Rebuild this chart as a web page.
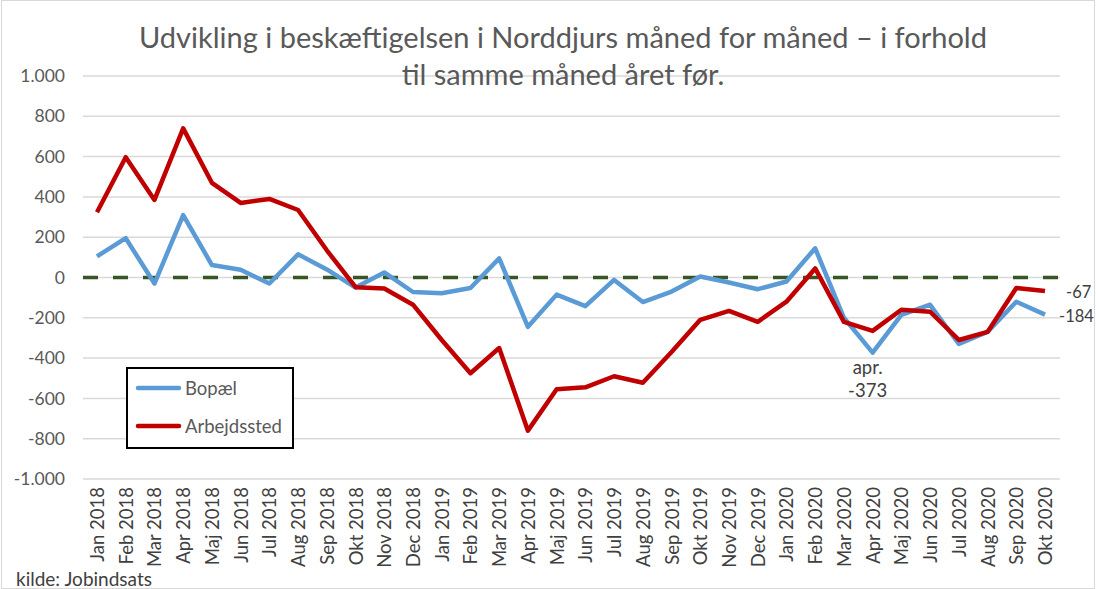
<!DOCTYPE html>
<html>
<head>
<meta charset="utf-8">
<script src="https://cdn.jsdelivr.net/npm/d3@7"></script>
<style>
  body { margin: 0; background: #fff; }
  text { font-family: Lato, 'Open Sans', sans-serif; }
</style>
</head>
<body>
<div id="chart"></div>
<script>
const months = [
  'Jan 2018', 'Feb 2018', 'Mar 2018', 'Apr 2018', 'Maj 2018', 'Jun 2018',
  'Jul 2018', 'Aug 2018', 'Sep 2018', 'Okt 2018', 'Nov 2018', 'Dec 2018',
  'Jan 2019', 'Feb 2019', 'Mar 2019', 'Apr 2019', 'Maj 2019', 'Jun 2019',
  'Jul 2019', 'Aug 2019', 'Sep 2019', 'Okt 2019', 'Nov 2019', 'Dec 2019',
  'Jan 2020', 'Feb 2020', 'Mar 2020', 'Apr 2020', 'Maj 2020', 'Jun 2020',
  'Jul 2020', 'Aug 2020', 'Sep 2020', 'Okt 2020'
]

const bopael = [
  105, 195, -30, 310, 62, 38, -30, 115, 40, -50, 25, -72,
  -78, -52, 95, -245, -85, -142, -12, -122, -70, 5, -25, -58,
  -20, 145, -200, -373, -186, -135, -330, -270, -120, -184
]

const arbejdssted = [
  324, 597, 385, 740, 470, 370, 390, 335, 135, -48, -55, -135,
  -310, -475, -350, -760, -555, -545, -490, -522, -370, -210, -166, -220,
  -120, 45, -220, -265, -160, -170, -310, -270, -52, -67
]

const yTicks = [-1000, -800, -600, -400, -200, 0, 200, 400, 600, 800, 1000]

const width = 1096
const height = 589
const margin = { left: 83, right: 1060, top: 76, bottom: 479 }
const labelSize = 18.5

const svg = d3
  .select('#chart')
  .append('svg')
  .attr('width', width)
  .attr('height', height)

// thin frame round the picture
svg
  .append('rect')
  .attr('x', 1.5)
  .attr('y', 0.5)
  .attr('width', width - 3)
  .attr('height', height - 1)
  .attr('fill', 'none')
  .attr('stroke', '#d9d9d9')

const xPositionScale = d3
  .scalePoint()
  .domain(months)
  .range([97, 1045])

const yPositionScale = d3
  .scaleLinear()
  .domain([-1000, 1000])
  .range([margin.bottom, margin.top])

const dk = d3.formatLocale({
  decimal: ',',
  thousands: '.',
  grouping: [3],
  currency: ['', ''],
  minus: '-'
})

// gridlines
svg
  .selectAll('.grid')
  .data(yTicks)
  .enter()
  .append('line')
  .attr('class', 'grid')
  .attr('x1', margin.left)
  .attr('x2', margin.right)
  .attr('y1', d => yPositionScale(d))
  .attr('y2', d => yPositionScale(d))
  .attr('stroke', '#d9d9d9')
  .attr('stroke-width', 1.5)

// y axis
const yAxis = d3
  .axisLeft(yPositionScale)
  .tickValues(yTicks)
  .tickSize(0)
  .tickPadding(0)
  .tickFormat(dk.format(',d'))

svg
  .append('g')
  .attr('class', 'y-axis')
  .attr('transform', 'translate(65,0)')
  .call(yAxis)
  .call(g => g.select('.domain').remove())
  .selectAll('text')
  .attr('font-size', 17.5)
  .attr('fill', '#595959')
  .style('font-family', 'Lato, sans-serif')

// x axis labels
const xAxis = d3
  .axisBottom(xPositionScale)
  .tickSize(0)
  .tickPadding(0)

svg
  .append('g')
  .attr('class', 'x-axis')
  .attr('transform', 'translate(0,' + margin.bottom + ')')
  .call(xAxis)
  .call(g => g.select('.domain').remove())
  .selectAll('text')
  .attr('transform', 'rotate(-90)')
  .attr('x', -8)
  .attr('y', 0)
  .attr('dy', '0.35em')
  .attr('text-anchor', 'end')
  .attr('font-size', labelSize)
  .attr('fill', '#404040')
  .style('font-family', 'Lato, sans-serif')

// zero line
svg
  .append('line')
  .attr('x1', margin.left)
  .attr('x2', margin.right)
  .attr('y1', yPositionScale(0))
  .attr('y2', yPositionScale(0))
  .attr('stroke', '#375623')
  .attr('stroke-width', 3.5)
  .attr('stroke-dasharray', '15,15')

const line = d3
  .line()
  .x((d, i) => xPositionScale(months[i]))
  .y(d => yPositionScale(d))

const series = [
  { name: 'Bopæl', values: bopael, color: '#5b9bd5' },
  { name: 'Arbejdssted', values: arbejdssted, color: '#c00000' }
]

svg
  .selectAll('.series')
  .data(series)
  .enter()
  .append('path')
  .attr('class', 'series')
  .attr('d', d => line(d.values))
  .attr('fill', 'none')
  .attr('stroke', d => d.color)
  .attr('stroke-width', 4.5)
  .attr('stroke-linejoin', 'round')

// end labels (kept a bit smaller so they fit inside the frame)
const last = months.length - 1
svg
  .append('text')
  .text(arbejdssted[last])
  .attr('x', xPositionScale(months[last]) + 21)
  .attr('y', yPositionScale(arbejdssted[last]) + 7)
  .attr('font-size', 16.5)
  .attr('fill', '#404040')

svg
  .append('text')
  .text(bopael[last])
  .attr('x', xPositionScale(months[last]) + 14)
  .attr('y', yPositionScale(bopael[last]) + 7)
  .attr('font-size', 16.5)
  .attr('fill', '#404040')

// april 2020 label
const aprIndex = months.indexOf('Apr 2020')
svg
  .append('text')
  .attr('y', yPositionScale(bopael[aprIndex]) + 21)
  .attr('text-anchor', 'middle')
  .attr('font-size', labelSize)
  .attr('fill', '#404040')
  .selectAll('tspan')
  .data(['apr.', bopael[aprIndex]])
  .enter()
  .append('tspan')
  .attr('x', xPositionScale(months[aprIndex]) - 5)
  .attr('dy', (d, i) => (i === 0 ? 0 : 23))
  .text(d => d)

// legend
const legend = svg.append('g').attr('transform', 'translate(127,368)')

legend
  .append('rect')
  .attr('width', 166)
  .attr('height', 80)
  .attr('fill', '#fff')
  .attr('stroke', '#000')
  .attr('stroke-width', 2)

legend
  .selectAll('.legend-line')
  .data(series)
  .enter()
  .append('line')
  .attr('x1', 11)
  .attr('x2', 52)
  .attr('y1', (d, i) => 20 + i * 38)
  .attr('y2', (d, i) => 20 + i * 38)
  .attr('stroke', d => d.color)
  .attr('stroke-width', 4.5)
  .attr('stroke-linecap', 'round')

legend
  .selectAll('.legend-text')
  .data(series)
  .enter()
  .append('text')
  .text(d => d.name)
  .attr('x', 58)
  .attr('y', (d, i) => 27 + i * 38)
  .attr('font-size', labelSize)
  .attr('fill', '#595959')

// title
svg
  .append('text')
  .attr('text-anchor', 'middle')
  .attr('font-size', 29)
  .attr('fill', '#595959')
  .selectAll('tspan')
  .data([
    'Udvikling i beskæftigelsen i Norddjurs måned for måned – i forhold',
    'til samme måned året før.'
  ])
  .enter()
  .append('tspan')
  .attr('x', 563)
  .attr('y', (d, i) => 48 + i * 37)
  .text(d => d)

// source
svg
  .append('text')
  .text('kilde: Jobindsats')
  .attr('x', 16)
  .attr('y', 586)
  .attr('font-size', 19)
  .attr('fill', '#404040')
</script>
</body>
</html>
